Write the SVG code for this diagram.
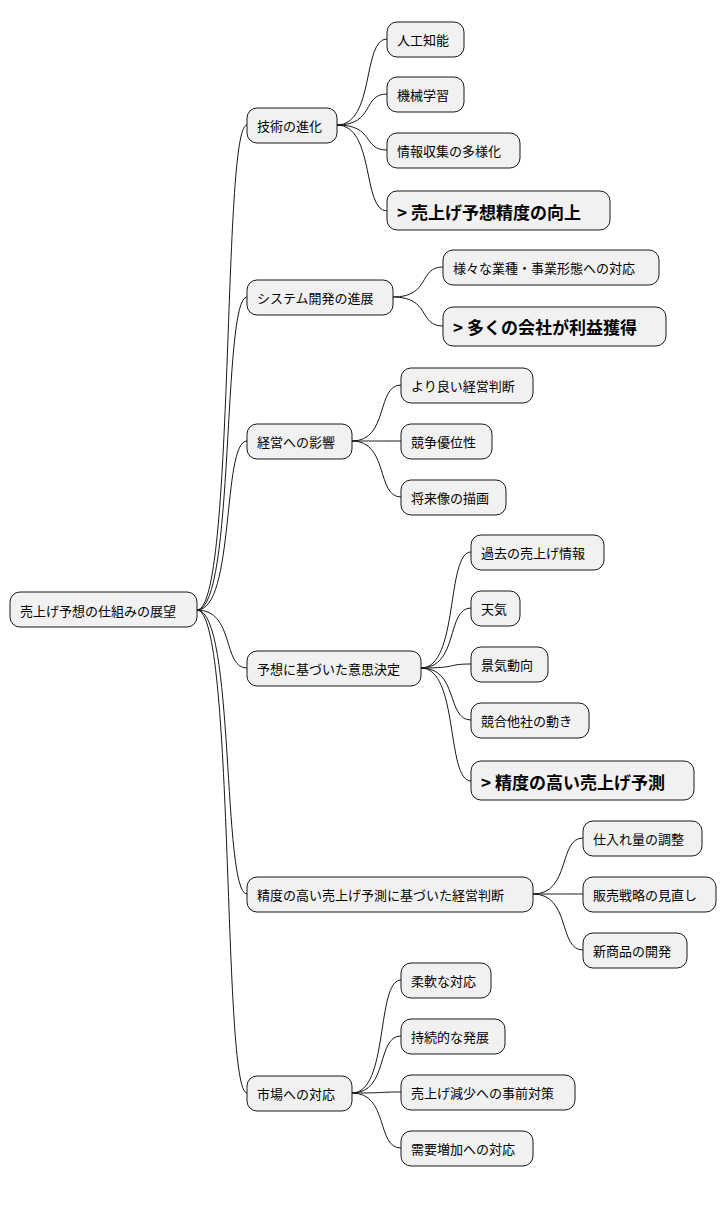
<svg xmlns="http://www.w3.org/2000/svg" width="726" height="1217" viewBox="0 0 726 1217">
<style>
.n rect{fill:#F1F1F1;stroke:#181818;stroke-width:1}
.n text{font-family:"Noto Sans CJK JP","Noto Sans",sans-serif;font-size:13px;fill:#000;dominant-baseline:central}
.b text{font-size:17px;font-weight:bold}
.c path{fill:none;stroke:#181818;stroke-width:1}
</style>
<rect width="726" height="1217" fill="#fff"/>
<g class="c">
<path d="M197,610 C235,610 222,125 247,125"/>
<path d="M197,610 C235,610 222,297 247,297"/>
<path d="M197,610 C235,610 222,441 247,441"/>
<path d="M197,610 C235,610 222,668 247,668"/>
<path d="M197,610 C235,610 222,894 247,894"/>
<path d="M197,610 C235,610 222,1093 247,1093"/>
<path d="M337,125 C375,125 362,39 387,39"/>
<path d="M337,125 C375,125 362,94 387,94"/>
<path d="M337,125 C375,125 362,150 387,150"/>
<path d="M337,125 C375,125 362,211 387,211"/>
<path d="M393,297 C431,297 418,267 443,267"/>
<path d="M393,297 C431,297 418,326 443,326"/>
<path d="M352,441 C389,441 376,385 401,385"/>
<path d="M352,441 C389,441 376,441 401,441"/>
<path d="M352,441 C389,441 376,497 401,497"/>
<path d="M421,668 C459,668 446,552 471,552"/>
<path d="M421,668 C459,668 446,608 471,608"/>
<path d="M421,668 C459,668 446,664 471,664"/>
<path d="M421,668 C459,668 446,720 471,720"/>
<path d="M421,668 C459,668 446,781 471,781"/>
<path d="M533,894 C571,894 558,838 583,838"/>
<path d="M533,894 C571,894 558,894 583,894"/>
<path d="M533,894 C571,894 558,950 583,950"/>
<path d="M352,1093 C389,1093 376,980 401,980"/>
<path d="M352,1093 C389,1093 376,1036 401,1036"/>
<path d="M352,1093 C389,1093 376,1092 401,1092"/>
<path d="M352,1093 C389,1093 376,1148 401,1148"/>
</g>
<g id="root" class="n"><rect x="10" y="592" width="187" height="35" rx="10"/><text x="20" y="610">売上げ予想の仕組みの展望</text></g>
<g id="n1" class="n"><rect x="247" y="108" width="90" height="35" rx="10"/><text x="257" y="125">技術の進化</text></g>
<g id="n2" class="n"><rect x="247" y="280" width="146" height="35" rx="10"/><text x="257" y="297">システム開発の進展</text></g>
<g id="n3" class="n"><rect x="247" y="424" width="105" height="35" rx="10"/><text x="257" y="441">経営への影響</text></g>
<g id="n4" class="n"><rect x="247" y="651" width="174" height="35" rx="10"/><text x="257" y="668">予想に基づいた意思決定</text></g>
<g id="n5" class="n"><rect x="247" y="877" width="286" height="35" rx="10"/><text x="257" y="894">精度の高い売上げ予測に基づいた経営判断</text></g>
<g id="n6" class="n"><rect x="247" y="1076" width="105" height="35" rx="10"/><text x="257" y="1093">市場への対応</text></g>
<g id="n11" class="n"><rect x="387" y="22" width="77" height="35" rx="10"/><text x="397" y="39">人工知能</text></g>
<g id="n12" class="n"><rect x="387" y="77" width="77" height="35" rx="10"/><text x="397" y="94">機械学習</text></g>
<g id="n13" class="n"><rect x="387" y="133" width="133" height="35" rx="10"/><text x="397" y="150">情報収集の多様化</text></g>
<g id="n14" class="n b"><rect x="387" y="191" width="223" height="39" rx="10"/><text x="397" y="211">&gt; 売上げ予想精度の向上</text></g>
<g id="n21" class="n"><rect x="443" y="250" width="216" height="35" rx="10"/><text x="453" y="267">様々な業種・事業形態への対応</text></g>
<g id="n22" class="n b"><rect x="443" y="307" width="223" height="39" rx="10"/><text x="453" y="326">&gt; 多くの会社が利益獲得</text></g>
<g id="n31" class="n"><rect x="401" y="368" width="132" height="35" rx="10"/><text x="411" y="385">より良い経営判断</text></g>
<g id="n32" class="n"><rect x="401" y="424" width="91" height="35" rx="10"/><text x="411" y="441">競争優位性</text></g>
<g id="n33" class="n"><rect x="401" y="480" width="105" height="35" rx="10"/><text x="411" y="497">将来像の描画</text></g>
<g id="n41" class="n"><rect x="471" y="535" width="133" height="35" rx="10"/><text x="481" y="552">過去の売上げ情報</text></g>
<g id="n42" class="n"><rect x="471" y="591" width="49" height="35" rx="10"/><text x="481" y="608">天気</text></g>
<g id="n43" class="n"><rect x="471" y="647" width="77" height="35" rx="10"/><text x="481" y="664">景気動向</text></g>
<g id="n44" class="n"><rect x="471" y="703" width="118" height="35" rx="10"/><text x="481" y="720">競合他社の動き</text></g>
<g id="n45" class="n b"><rect x="471" y="761" width="223" height="39" rx="10"/><text x="481" y="781">&gt; 精度の高い売上げ予測</text></g>
<g id="n51" class="n"><rect x="583" y="821" width="119" height="35" rx="10"/><text x="593" y="838">仕入れ量の調整</text></g>
<g id="n52" class="n"><rect x="583" y="877" width="133" height="35" rx="10"/><text x="593" y="894">販売戦略の見直し</text></g>
<g id="n53" class="n"><rect x="583" y="933" width="104" height="35" rx="10"/><text x="593" y="950">新商品の開発</text></g>
<g id="n61" class="n"><rect x="401" y="963" width="90" height="35" rx="10"/><text x="411" y="980">柔軟な対応</text></g>
<g id="n62" class="n"><rect x="401" y="1019" width="104" height="35" rx="10"/><text x="411" y="1036">持続的な発展</text></g>
<g id="n63" class="n"><rect x="401" y="1075" width="174" height="35" rx="10"/><text x="411" y="1092">売上げ減少への事前対策</text></g>
<g id="n64" class="n"><rect x="401" y="1131" width="132" height="35" rx="10"/><text x="411" y="1148">需要増加への対応</text></g>
</svg>
